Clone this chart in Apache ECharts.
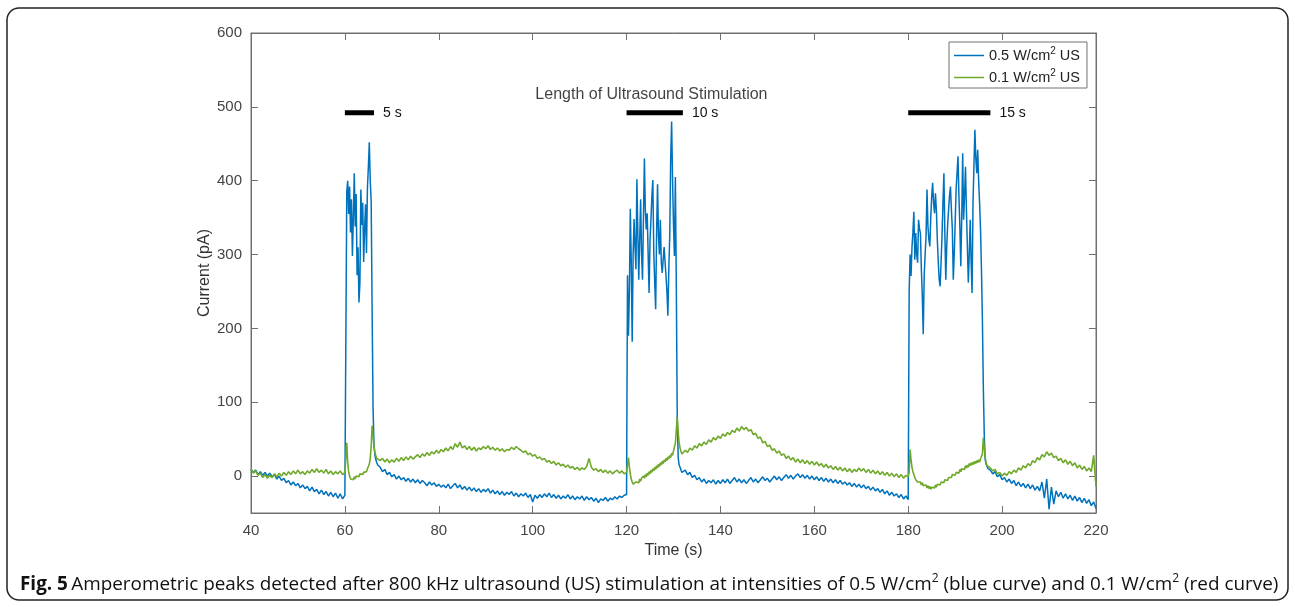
<!DOCTYPE html>
<html>
<head>
<meta charset="utf-8">
<title>Amperometric peaks</title>
<script src="https://cdn.jsdelivr.net/npm/echarts@6.0.0/dist/echarts.min.js"></script>
<style>
  html, body { margin: 0; padding: 0; background: #fff; }
  #chart { width: 1295px; height: 607px; }
</style>
</head>
<body>
<div id="chart"></div>
<script>
// time axis ticks / current axis ticks
var xTicks = [40, 60, 80, 100, 120, 140, 160, 180, 200, 220];
var yTicks = [0, 100, 200, 300, 400, 500, 600];

// 0.5 W/cm2 trace in pieces (start time, step, values)
var blueBase1 = [9, 5, 8, 2, 6, 1, 5, 0, 4, -1, 2, -4, 0, -6, -3, -9, -6, -12, -8, -13, -10, -16, -12, -17, -14, -20, -15, -21, -18, -24, -19, -25, -21, -27, -22, -28, -23, -30, -24, -31, -26];
var bluePulse1 = [-28, 385, 400, 355, 392, 330, 375, 298, 350, 410, 338, 382, 272, 310, 235, 262, 388, 340, 370, 290, 335, 368, 302, 390, 418, 452, 400, 372, 225, 92, 42, 28, 22, 18, 15];
var blueBase2 = [12, 6, 9, 2, 5, -1, 2, -4, 0, -5, -2, -7, -3, -8, -4, -9, -5, -10, -6, -9, -13, -8, -12, -9, -14, -11, -15, -12, -16, -11, -17, -13, -10, -16, -12, -18, -14, -19, -15, -20, -16, -21, -17, -22, -18, -21, -17, -23, -19, -24, -20, -25, -21, -26, -22, -25, -21, -27, -23, -28, -24, -27, -23, -29, -25, -35, -26, -30, -25, -29, -24, -28, -23, -29, -25, -30, -26, -31, -27, -30, -25, -31, -27, -32, -28, -31, -27, -33, -28, -32, -29, -34, -30, -36, -31, -33, -29, -34, -30, -32, -28, -31, -27, -29, -26, -25];
var bluePulse2 = [272, 190, 250, 362, 290, 182, 300, 348, 310, 280, 402, 330, 266, 320, 375, 300, 266, 350, 430, 360, 334, 356, 300, 248, 320, 347, 380, 401, 302, 262, 226, 330, 395, 325, 300, 347, 290, 275, 293, 310, 311, 271, 250, 217, 280, 325, 430, 480, 401, 340, 298, 405, 257, 77, 25, 15, 12, 8, 5, 3];
var blueBase3 = [8, 2, 5, -2, 1, -5, -2, -8, -4, -10, -6, -9, -5, -11, -6, -10, -5, -9, -4, -10, -6, -2, -8, -4, -9, -5, -10, -6, -2, -8, -4, -9, -5, -1, -6, -3, -8, -4, 0, -5, -1, -6, -2, 2, -3, 1, -4, 0, 3, -2, 2, -3, 1, -4, 0, -5, -1, -6, -2, -7, -3, -8, -4, -9, -5, -10, -6, -11, -8, -12, -9, -14, -10, -15, -11, -16, -12, -17, -14, -19, -15, -20, -17, -22, -18, -24, -20, -26, -22, -27, -24, -29, -25, -31, -27, -32];
var bluePulse3 = [250, 300, 271, 310, 330, 358, 293, 329, 300, 289, 347, 335, 329, 280, 244, 192, 271, 300, 325, 388, 338, 320, 311, 350, 379, 397, 370, 356, 383, 360, 320, 290, 266, 257, 290, 325, 370, 410, 330, 266, 311, 340, 361, 380, 392, 360, 334, 266, 300, 343, 388, 410, 433, 380, 338, 284, 350, 437, 347, 380, 419, 360, 311, 262, 300, 347, 290, 248, 370, 420, 469, 430, 410, 442, 400, 370, 334, 280, 212, 120, 55, 22, 16, 13, 10];
var blueBase4 = [8, 3, 6, -1, 2, -5, -2, -8, -4, -10, -6, -13, -8, -14, -10, -16, -11, -17, -12, -19, -14, -20, -8, -30, -4, -45, -15, -38, -20, -28, -22, -30, -24, -31, -26, -33, -27, -34, -29, -36, -30, -37, -32, -40, -35, -44];

// 0.1 W/cm2 trace
var greenBase1 = [10, 4, 7, 1, 4, -2, 2, -3, 1, -2, 3, -1, 4, 0, 5, 1, 6, 2, 7, 3, 8, 3, 6, 2, 7, 4, 9, 5, 10, 5, 8, 4, 9, 3, 7, 2, 6, 3, 7, 2, 5];
var greenPulse1 = [5, 45, 18, 6, 0, -4, -6, -3, -5, -1, -4, 0, -2, 2, -1, 3, 1, 4, 2, 5, 3, 7, 6, 10, 12, 16, 24, 40, 68, 55, 40, 32, 27, 24, 22];
var greenBase2 = [21, 24, 19, 23, 18, 22, 19, 24, 20, 25, 21, 26, 22, 27, 23, 26, 29, 25, 30, 27, 32, 28, 33, 30, 35, 31, 36, 33, 38, 34, 40, 36, 44, 39, 46, 38, 41, 36, 40, 35, 39, 34, 38, 36, 40, 37, 41, 36, 39, 35, 38, 34, 37, 33, 36, 35, 39, 36, 40, 37, 35, 32, 34, 29, 31, 27, 29, 24, 26, 22, 24, 19, 21, 17, 20, 15, 18, 14, 16, 12, 15, 11, 13, 9, 12, 8, 11, 9, 13, 24, 12, 8, 10, 6, 9, 5, 8, 4, 7, 3, 6, 8, 4, 7, 3, 5];
var greenPulse2 = [6, 25, 12, 3, -4, -8, -11, -9, -12, -8, -10, -6, -9, -4, -7, -3, -5, 0, -3, 2, -1, 4, 1, 6, 3, 8, 5, 10, 7, 12, 9, 14, 11, 16, 13, 18, 15, 20, 17, 22, 19, 24, 21, 26, 23, 28, 25, 31, 28, 34, 32, 45, 62, 80, 60, 45, 38, 33, 30, 31];
var greenBase3 = [35, 32, 38, 35, 41, 38, 44, 41, 46, 43, 49, 46, 52, 49, 54, 51, 57, 54, 59, 56, 62, 59, 65, 61, 67, 63, 66, 61, 63, 56, 58, 51, 53, 45, 47, 40, 42, 35, 37, 31, 34, 28, 30, 24, 27, 22, 25, 19, 23, 18, 22, 17, 21, 16, 20, 15, 19, 14, 17, 12, 16, 11, 14, 9, 13, 8, 12, 7, 11, 6, 10, 5, 9, 6, 11, 7, 10, 5, 9, 4, 8, 3, 7, 2, 6, 1, 5, 0, 4, -1, 3, -2, 2, -3, 1, -1];
var greenPulse3 = [5, 36, 22, 12, 6, 2, -2, -5, -3, -8, -6, -10, -8, -12, -9, -13, -11, -15, -12, -16, -13, -17, -14, -18, -15, -17, -13, -16, -12, -15, -11, -13, -9, -12, -8, -10, -6, -9, -5, -7, -3, -6, -2, -4, 0, -2, 2, 0, 4, 1, 5, 3, 7, 4, 9, 6, 10, 8, 12, 9, 14, 11, 15, 12, 17, 14, 18, 15, 19, 16, 20, 17, 21, 18, 22, 19, 23, 21, 30, 52, 38, 25, 18, 14, 12];
var greenBase4 = [11, 7, 9, 3, 5, 0, 4, 1, 6, 3, 8, 5, 11, 8, 14, 11, 17, 14, 21, 18, 25, 22, 29, 26, 33, 28, 31, 25, 27, 21, 24, 18, 22, 16, 20, 14, 18, 11, 15, 9, 13, 7, 11, 6, 28, -14];

// stimulation bars
var barStart = [60, 120, 180];
var barEnd = [66.2, 132, 197.5];
var barLevel = 492;
var barNames = ['5 s', '10 s', '15 s'];

function build(segs) {
  var out = [];
  segs.forEach(function (s) {
    s[2].forEach(function (v, i) {
      out.push([+(s[0] + i * s[1]).toFixed(2), v]);
    });
  });
  return out;
}

var blueData = build([
  [40, 0.5, blueBase1], [60.2, 0.2, bluePulse1], [67.5, 0.5, blueBase2],
  [120.2, 0.2, bluePulse2], [132.5, 0.5, blueBase3], [180.2, 0.2, bluePulse3],
  [197.5, 0.5, blueBase4]
]);
var greenData = build([
  [40, 0.5, greenBase1], [60.2, 0.2, greenPulse1], [67.5, 0.5, greenBase2],
  [120.2, 0.2, greenPulse2], [132.5, 0.5, greenBase3], [180.2, 0.2, greenPulse3],
  [197.5, 0.5, greenBase4]
]);

var axisGray = '#707070';
var txt = '#333';
var font = 'Liberation Sans, Arial, sans-serif';

var barSeries = barStart.map(function (s, i) {
  return {
    name: barNames[i],
    type: 'line',
    silent: true,
    symbol: 'none',
    lineStyle: { color: '#000', width: 5 },
    data: [[s, barLevel], [barEnd[i], barLevel]],
    endLabel: { show: true, formatter: barNames[i], distance: 9, color: '#111', fontSize: 14, fontFamily: font },
    z: 5
  };
});

var chart = echarts.init(document.getElementById('chart'));
chart.setOption({
  animation: false,
  backgroundColor: '#fff',
  grid: { left: 251, right: 199, top: 33, bottom: 94, show: true, borderColor: axisGray, borderWidth: 1 },
  legend: {
    data: ['0.5 W/cm2 US', '0.1 W/cm2 US'],
    orient: 'vertical',
    left: 949,
    top: 42,
    padding: [4, 7, 3, 5],
    itemGap: 5,
    icon: 'rect',
    itemWidth: 30,
    itemHeight: 1.5,
    backgroundColor: '#fff',
    borderColor: axisGray,
    borderWidth: 1,
    borderRadius: 0,
    formatter: function (name) {
      return name.indexOf('0.5') === 0 ? '{t|0.5 W/cm}{s|2}{t| US}' : '{t|0.1 W/cm}{s|2}{t| US}';
    },
    textStyle: {
      color: '#222',
      fontFamily: font,
      rich: {
        t: { fontSize: 14.5, fontFamily: font, color: '#222' },
        s: { fontSize: 10, fontFamily: font, color: '#222', padding: [0, 0, 9, 0] }
      }
    }
  },
  xAxis: [{
    type: 'value', min: 40, max: 220, interval: 20,
    name: 'Time (s)', nameLocation: 'middle', nameGap: 21,
    nameTextStyle: { fontSize: 16, color: txt, fontFamily: font },
    axisLine: { show: true, onZero: false, lineStyle: { color: axisGray } },
    axisTick: { inside: true, length: 7, lineStyle: { color: axisGray } },
    axisLabel: { fontSize: 15, color: '#444', fontFamily: font, margin: 10 },
    splitLine: { show: false }
  }, {
    type: 'value', min: 40, max: 220, interval: 20, position: 'top',
    axisLine: { show: true, onZero: false, lineStyle: { color: axisGray } },
    axisTick: { inside: true, length: 7, lineStyle: { color: axisGray } },
    axisLabel: { show: false },
    splitLine: { show: false }
  }],
  yAxis: [{
    type: 'value', min: -50, max: 600,
    name: 'Current (pA)', nameLocation: 'middle', nameGap: 38, nameMoveOverlap: false,
    nameTextStyle: { fontSize: 16, color: txt, fontFamily: font },
    axisLine: { show: true, onZero: false, lineStyle: { color: axisGray } },
    axisTick: { inside: true, length: 7, customValues: yTicks, lineStyle: { color: axisGray } },
    axisLabel: { fontSize: 15, color: '#444', fontFamily: font, margin: 9, customValues: yTicks },
    splitLine: { show: false }
  }, {
    type: 'value', min: -50, max: 600, position: 'right',
    axisLine: { show: true, onZero: false, lineStyle: { color: axisGray } },
    axisTick: { inside: true, length: 7, customValues: yTicks, lineStyle: { color: axisGray } },
    axisLabel: { show: false, customValues: yTicks },
    splitLine: { show: false }
  }],
  series: [{
    name: '0.5 W/cm2 US',
    type: 'line',
    symbol: 'none',
    silent: true,
    lineStyle: { color: '#0072BD', width: 1.5 },
    itemStyle: { color: '#0072BD' },
    data: blueData,
    z: 2
  }, {
    name: '0.1 W/cm2 US',
    type: 'line',
    symbol: 'none',
    silent: true,
    lineStyle: { color: '#6FA82A', width: 1.6 },
    itemStyle: { color: '#6FA82A' },
    data: greenData,
    z: 3
  }, {
    type: 'scatter',
    silent: true,
    symbolSize: 1,
    itemStyle: { color: 'rgba(0,0,0,0)' },
    label: { show: true, position: 'inside', formatter: 'Length of Ultrasound Stimulation', color: '#111', fontSize: 16, fontFamily: font },
    data: [[125.3, 517]]
  }].concat(barSeries),
  graphic: [{
    type: 'rect',
    shape: { x: 7, y: 8, width: 1281, height: 592, r: 12 },
    style: { fill: 'none', stroke: '#222', lineWidth: 1.5 },
    silent: true,
    z: -1
  }, {
    type: 'text',
    left: 20,
    top: 573,
    style: {
      text: '{b|Fig. 5} {r|Amperometric peaks detected after 800 kHz ultrasound (US) stimulation at intensities of 0.5 W/cm}{s|2}{r| (blue curve) and 0.1 W/cm}{s|2}{r| (red curve)}',
      rich: {
        b: { fontSize: 18.9, fontWeight: 'bold', fontFamily: 'Open Sans', fill: '#111' },
        r: { fontSize: 18.9, fontFamily: 'Open Sans', fill: '#111' },
        s: { fontSize: 12, fontFamily: 'Open Sans', fill: '#111', padding: [0, 0, 12, 0] }
      }
    },
    silent: true
  }]
});
</script>
</body>
</html>
